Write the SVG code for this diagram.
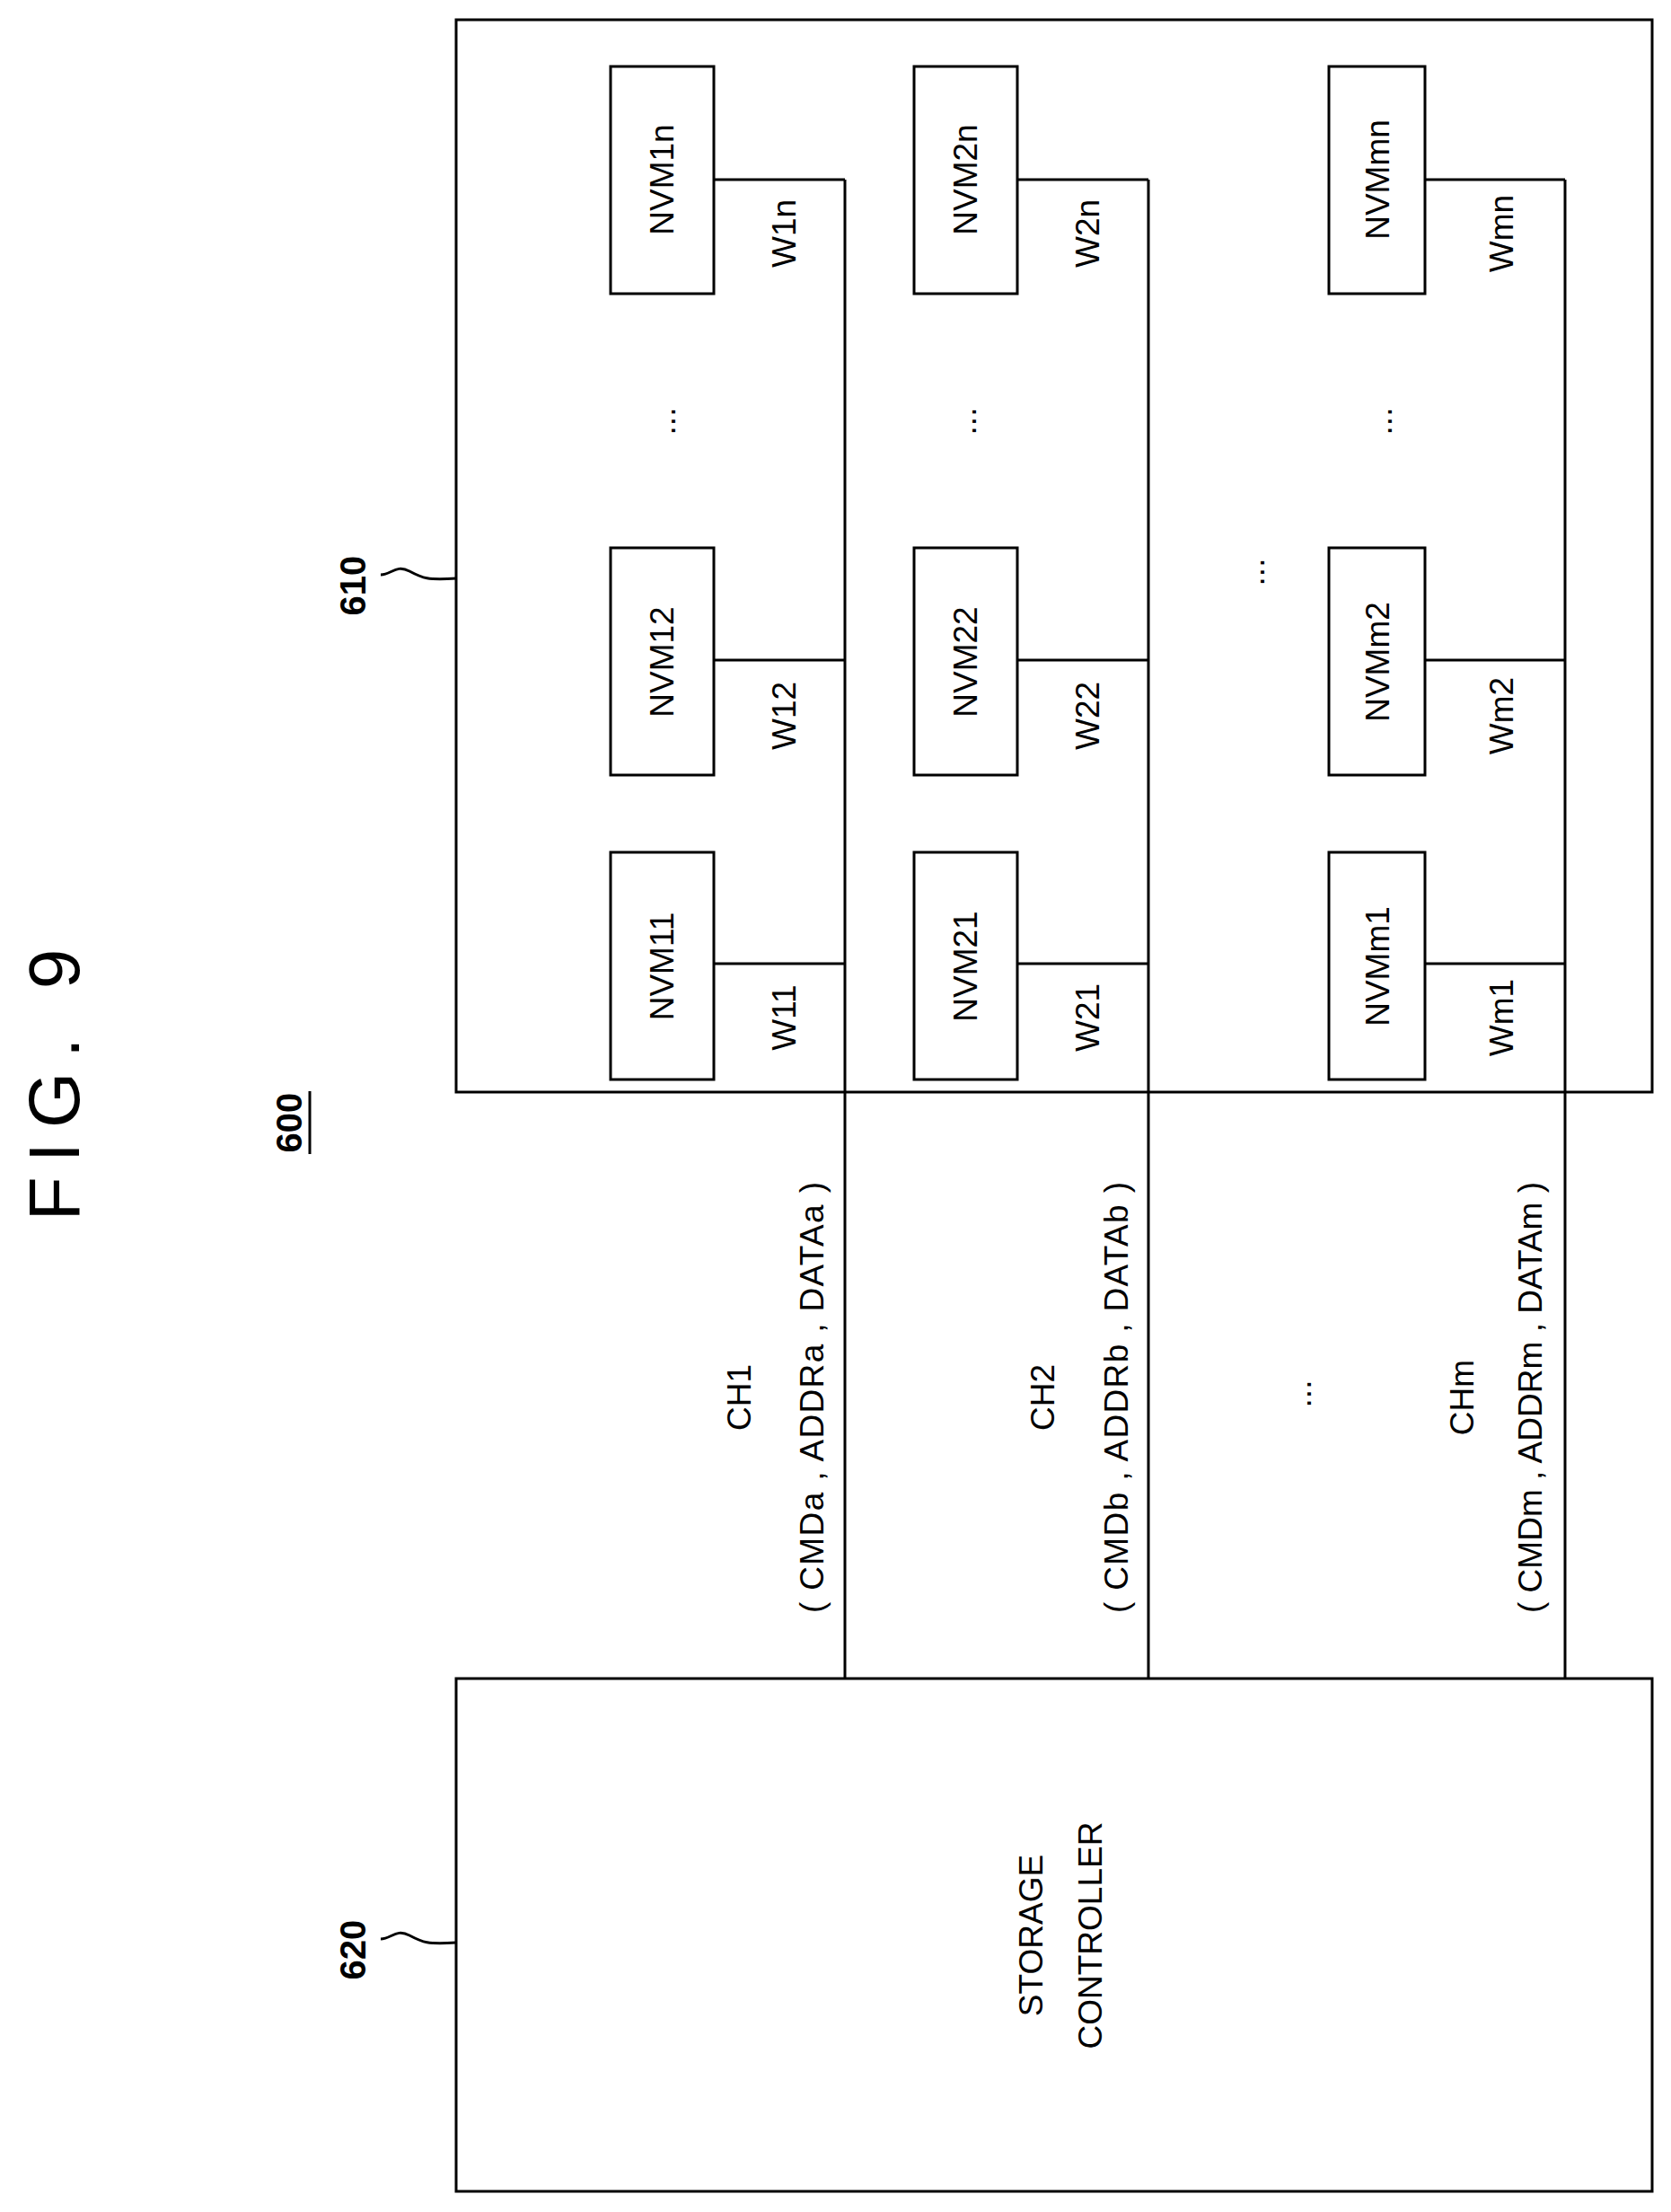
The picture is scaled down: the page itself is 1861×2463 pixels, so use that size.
<svg xmlns="http://www.w3.org/2000/svg" width="1861" height="2463" viewBox="0 0 1861 2463">
<style>
.b{fill:none;stroke:#000;stroke-width:3}
.l{stroke:#000;stroke-width:3;fill:none}
text{font-family:"Liberation Sans",Arial,sans-serif;font-size:37px;text-anchor:middle;dominant-baseline:central}
.bold{font-weight:bold;font-size:40px}
</style>
<rect width="1861" height="2463" fill="#fff"/>
<text transform="rotate(-90 60 1200)" x="60" y="1200" style="font-size:80px;letter-spacing:16px">FIG. 9</text>
<g id="label600"><text class="bold" transform="rotate(-90 322 1250)" x="322" y="1250">600</text><line class="l" x1="345" y1="1215" x2="345" y2="1285"/></g>
<g id="n610">
<rect class="b" x="508" y="22" width="1332" height="1194"/>
<text class="bold" transform="rotate(-90 393 652)" x="393" y="652">610</text>
<path class="l" d="M424 640 C436 640 441 628 456 636 C471 644 476 646 508 644"/>
</g>
<g id="n620">
<rect class="b" x="508" y="1869" width="1332" height="571"/>
<text transform="rotate(-90 1148 2155)" x="1148" y="2155">STORAGE</text>
<text transform="rotate(-90 1214 2155)" x="1214" y="2155">CONTROLLER</text>
<text class="bold" transform="rotate(-90 393 2171)" x="393" y="2171">620</text>
<path class="l" d="M424 2159 C436 2159 441 2147 456 2155 C471 2163 476 2165 508 2163"/>
</g>
<g id="nvm">
<g id="NVM1n"><rect class="b" x="680" y="74" width="115" height="253"/><text transform="rotate(-90 737 200)" x="737" y="200">NVM1n</text></g>
<g id="NVM12"><rect class="b" x="680" y="610" width="115" height="253"/><text transform="rotate(-90 737 737)" x="737" y="737">NVM12</text></g>
<g id="NVM11"><rect class="b" x="680" y="949" width="115" height="253"/><text transform="rotate(-90 737 1076)" x="737" y="1076">NVM11</text></g>
<g id="NVM2n"><rect class="b" x="1018" y="74" width="115" height="253"/><text transform="rotate(-90 1075 200)" x="1075" y="200">NVM2n</text></g>
<g id="NVM22"><rect class="b" x="1018" y="610" width="115" height="253"/><text transform="rotate(-90 1075 737)" x="1075" y="737">NVM22</text></g>
<g id="NVM21"><rect class="b" x="1018" y="949" width="115" height="253"/><text transform="rotate(-90 1075 1076)" x="1075" y="1076">NVM21</text></g>
<g id="NVMmn"><rect class="b" x="1480" y="74" width="107" height="253"/><text transform="rotate(-90 1534 200)" x="1534" y="200">NVMmn</text></g>
<g id="NVMm2"><rect class="b" x="1480" y="610" width="107" height="253"/><text transform="rotate(-90 1534 737)" x="1534" y="737">NVMm2</text></g>
<g id="NVMm1"><rect class="b" x="1480" y="949" width="107" height="253"/><text transform="rotate(-90 1534 1076)" x="1534" y="1076">NVMm1</text></g>
</g>
<g id="connectors">
<path class="l" d="M795 200H941M795 735H941M795 1073H941M941 200V1869"/>
<path class="l" d="M1133 200H1279M1133 735H1279M1133 1073H1279M1279 200V1869"/>
<path class="l" d="M1587 200H1743M1587 735H1743M1587 1073H1743M1743 200V1869"/>
</g>
<g id="labels">
<text transform="rotate(-90 873 260)" x="873" y="260">W1n</text>
<text transform="rotate(-90 873 797)" x="873" y="797">W12</text>
<text transform="rotate(-90 873 1133)" x="873" y="1133">W11</text>
<text transform="rotate(-90 1211 260)" x="1211" y="260">W2n</text>
<text transform="rotate(-90 1211 797)" x="1211" y="797">W22</text>
<text transform="rotate(-90 1211 1133)" x="1211" y="1133">W21</text>
<text transform="rotate(-90 1672 260)" x="1672" y="260">Wmn</text>
<text transform="rotate(-90 1672 797)" x="1672" y="797">Wm2</text>
<text transform="rotate(-90 1672 1133)" x="1672" y="1133">Wm1</text>
<text transform="rotate(-90 739 469)" x="739" y="469">...</text>
<text transform="rotate(-90 1074 469)" x="1074" y="469">...</text>
<text transform="rotate(-90 1537 469)" x="1537" y="469">...</text>
<text transform="rotate(-90 1395 637)" x="1395" y="637">...</text>
<text transform="rotate(-90 823 1556)" x="823" y="1556">CH1</text>
<text transform="rotate(-90 904 1556)" x="904" y="1556" textLength="480" lengthAdjust="spacing">( CMDa , ADDRa , DATAa )</text>
<text transform="rotate(-90 1161 1556)" x="1161" y="1556">CH2</text>
<text transform="rotate(-90 1243 1556)" x="1243" y="1556" textLength="480" lengthAdjust="spacing">( CMDb , ADDRb , DATAb )</text>
<text transform="rotate(-90 1447 1552)" x="1447" y="1552">...</text>
<text transform="rotate(-90 1628 1556)" x="1628" y="1556">CHm</text>
<text transform="rotate(-90 1704 1556)" x="1704" y="1556" textLength="480" lengthAdjust="spacing">( CMDm , ADDRm , DATAm )</text>
</g>
</svg>
